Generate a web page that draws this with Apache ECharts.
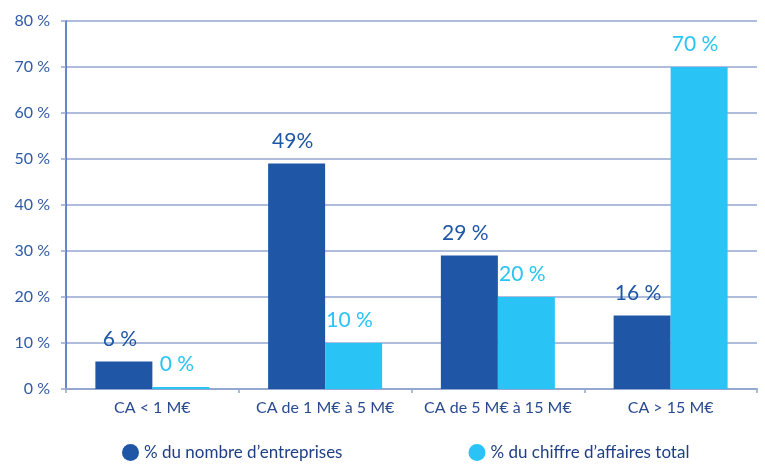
<!DOCTYPE html>
<html><head><meta charset="utf-8">
<script src="https://cdn.jsdelivr.net/npm/echarts@6/dist/echarts.min.js"></script>
<style>html,body{margin:0;padding:0;background:#fff}#c{width:765px;height:465px}</style>
</head><body><div id="c"></div>
<script>
var categories = ['CA < 1 M€', 'CA de 1 M€ à 5 M€', 'CA de 5 M€ à 15 M€', 'CA > 15 M€'];
var seriesNames = ['% du nombre d’entreprises', '% du chiffre d’affaires total'];
var nombreEntreprises = [6, 49, 29, 16];
var chiffreAffaires = [0, 10, 20, 70];
var nombreLabels = ['6 %', '49%', '29 %', '16 %'];
var chiffreLabels = ['0 %', '10 %', '20 %', '70 %'];
var yTicks = [0, 10, 20, 30, 40, 50, 60, 70, 80];

var font = 'Lato';
var dark = '#1f56a5', light = '#29c4f5', grid = '#94a7d0';
var chart = echarts.init(document.getElementById('c'));
function mk(vals, labels, color, name, minH) {
  return {
    name: name, type: 'bar', barWidth: 57, barGap: '0%', barMinHeight: minH,
    itemStyle: { color: color },
    label: { show: true, position: 'top', distance: 12, offset: [-4, 0], fontFamily: font, fontSize: 21,
      color: color, formatter: function (p) { return labels[p.dataIndex]; } },
    data: vals
  };
}
chart.setOption({
  animation: false,
  textStyle: { fontFamily: font },
  grid: { left: 66, right: 8, top: 21, bottom: 76, containLabel: false },
  legend: {
    top: 442, left: 120, itemGap: 126, icon: 'circle', itemWidth: 17, itemHeight: 17, padding: 2,
    textStyle: { fontFamily: font, fontSize: 17, color: '#1f3f85' },
    data: seriesNames
  },
  xAxis: {
    type: 'category', data: categories,
    axisLine: { lineStyle: { color: grid, width: 2 } },
    axisTick: { show: true, length: 4, lineStyle: { color: grid, width: 1.5 } },
    axisLabel: { interval: 0, fontFamily: font, fontSize: 16, color: '#2a4a90', margin: 11 }
  },
  yAxis: {
    type: 'value', min: 0, max: 80, interval: 10,
    axisLine: { show: true, lineStyle: { color: '#2f62b8', width: 1.5 } },
    axisTick: { show: true, length: 5, lineStyle: { color: grid, width: 1.5 } },
    splitLine: { lineStyle: { color: grid, width: 1.5 } },
    axisLabel: { fontFamily: font, fontSize: 16, color: '#2f5aa6', margin: 16,
      formatter: function (v) { return yTicks.indexOf(v) >= 0 ? v + ' %' : ''; } }
  },
  series: [
    mk(nombreEntreprises, nombreLabels, dark, seriesNames[0], 0),
    mk(chiffreAffaires, chiffreLabels, light, seriesNames[1], 2)
  ]
});
</script></body></html>
